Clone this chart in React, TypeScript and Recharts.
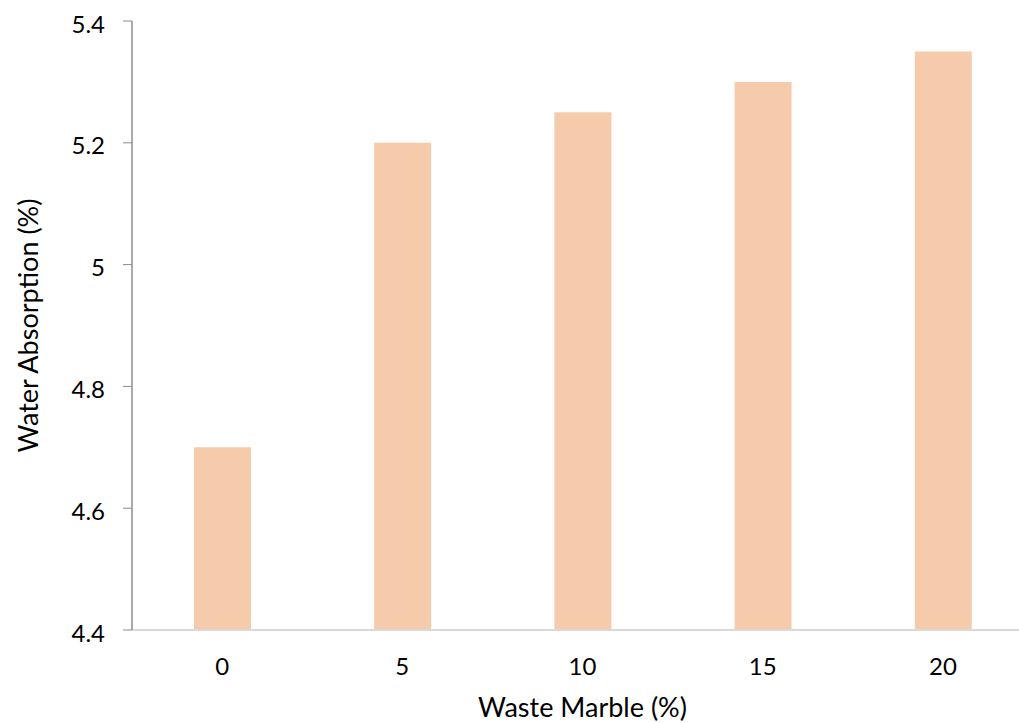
import { BarChart, Bar, XAxis, YAxis } from "recharts";

const wasteMarble = ["0", "5", "10", "15", "20"];
const waterAbsorption = [4.7, 5.2, 5.25, 5.3, 5.35];
const yTicks = [4.4, 4.6, 4.8, 5, 5.2, 5.4];

const data = wasteMarble.map((m, i) => ({ marble: m, absorption: waterAbsorption[i] }));

const FONT = "Lato, 'Open Sans', sans-serif";

export default function App() {
  return (
    <div
      style={{
        position: "fixed",
        left: 0,
        top: 0,
        width: 1019,
        height: 723,
        overflow: "hidden",
        background: "#fff",
      }}
    >
      <BarChart
        width={1035}
        height={723}
        data={data}
        margin={{ top: 21, right: 2, bottom: 0, left: 0 }}
        style={{ fontFamily: FONT }}
      >
        <XAxis
          dataKey="marble"
          height={93}
          tickLine={false}
          axisLine={{ stroke: "#d9d9d9", strokeWidth: 2 }}
          tickMargin={22}
          tick={{ fill: "#000", fontSize: 24, fontFamily: FONT }}
          label={({ viewBox }: any) => (
            <text
              x={viewBox.x + viewBox.width / 2}
              y={viewBox.y + 87}
              textAnchor="middle"
              fontSize={27}
              fontFamily={FONT}
              fill="#000"
            >
              Waste Marble (%)
            </text>
          )}
        />
        <YAxis
          width={132}
          domain={[4.4, 5.4]}
          ticks={yTicks}
          tickSize={9}
          tickMargin={18}
          tickLine={{ stroke: "#8c8c8c" }}
          axisLine={{ stroke: "#8c8c8c", strokeWidth: 1.5 }}
          tick={{ fill: "#000", fontSize: 24, fontFamily: FONT, dy: 3 }}
          label={({ viewBox }: any) => {
            const cx = viewBox.x + 27;
            const cy = viewBox.y + viewBox.height / 2;
            return (
              <text
                x={cx}
                y={cy}
                transform={`rotate(-90, ${cx}, ${cy})`}
                textAnchor="middle"
                dominantBaseline="central"
                fontSize={27}
                fontFamily={FONT}
                fill="#000"
              >
                Water Absorption (%)
              </text>
            );
          }}
        />
        <Bar dataKey="absorption" fill="#f6cbac" barSize={57} isAnimationActive={false} />
      </BarChart>
    </div>
  );
}
